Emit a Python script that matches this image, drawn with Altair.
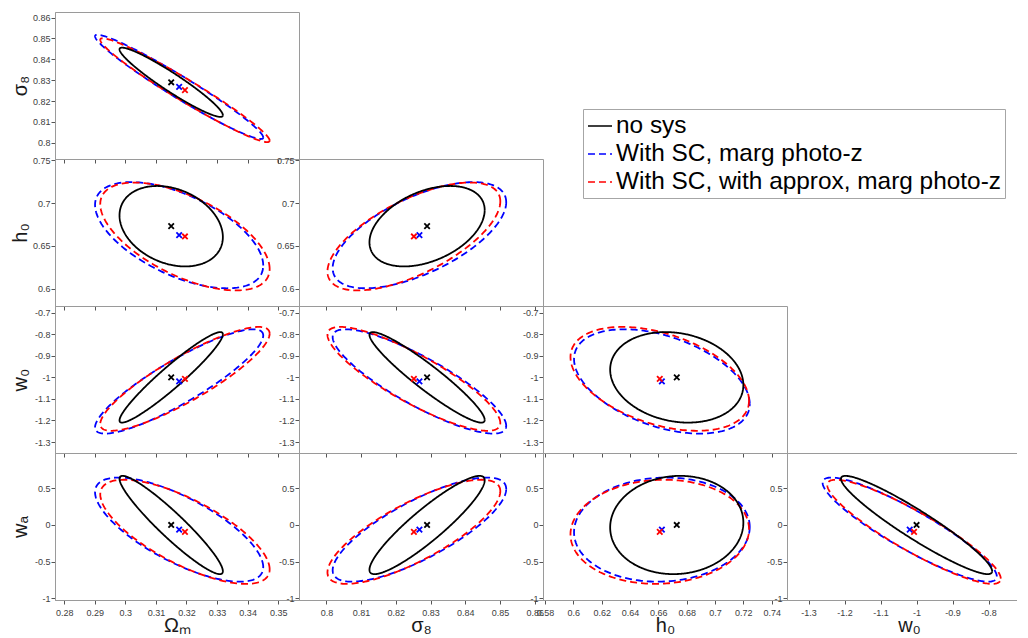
import numpy as np
import pandas as pd
import altair as alt

# ---------------- data ----------------
param_titles = ["Ωₘ", "σ₈", "h₀", "w₀", "wₐ"]
series_names = ["no sys", "With SC, marg photo-z", "With SC, with approx, marg photo-z"]
series_colors = ["#000000", "#0000ff", "#ff0000"]
series_dash = [[1, 0], [7, 4], [7, 4]]

# fiducial / best-fit markers: [Om, s8, h0, w0, wa]
center_nosys = [0.315, 0.829, 0.673, -1.0, 0.0]
center_sc = [0.3176, 0.8268, 0.6625, -1.019, -0.063]
center_approx = [0.3195, 0.8252, 0.661, -1.007, -0.093]

# half extents of the contours for each parameter
half_nosys = [0.0169, 0.0166, 0.047, 0.21, 0.67]
half_sc = [0.0275, 0.025, 0.062, 0.242, 0.71]
half_approx = [0.0277, 0.0249, 0.063, 0.241, 0.71]

# correlation of each panel pair (x param, y param)
pairs = [(0, 1), (0, 2), (1, 2), (0, 3), (1, 3), (2, 3), (0, 4), (1, 4), (2, 4), (3, 4)]
rho_nosys = [-0.95, -0.27, 0.40, 0.95, -0.94, -0.17, -0.94, 0.91, 0.05, -0.94]
rho_sc = [-0.97, -0.57, 0.62, 0.88, -0.85, -0.43, -0.72, 0.78, 0.05, -0.90]
rho_approx = [-0.97, -0.60, 0.65, 0.87, -0.85, -0.42, -0.72, 0.78, 0.05, -0.90]

# axis ranges and ticks
x_domains = {0: [0.277, 0.3568], 1: [0.7921, 0.8624], 2: [0.5786, 0.7508], 3: [-1.36, -0.682]}
y_domains = {1: [0.7922, 0.8627], 2: [0.5798, 0.7515], 3: [-1.351, -0.669], 4: [-1.023, 0.982]}
x_ticks = {
    0: [0.28, 0.29, 0.3, 0.31, 0.32, 0.33, 0.34, 0.35],
    1: [0.8, 0.81, 0.82, 0.83, 0.84, 0.85, 0.86],
    2: [0.58, 0.6, 0.62, 0.64, 0.66, 0.68, 0.7, 0.72, 0.74],
    3: [-1.3, -1.2, -1.1, -1.0, -0.9, -0.8, -0.7],
}
y_ticks = {
    1: [0.8, 0.81, 0.82, 0.83, 0.84, 0.85, 0.86],
    2: [0.6, 0.65, 0.7, 0.75],
    3: [-1.3, -1.2, -1.1, -1.0, -0.9, -0.8, -0.7],
    4: [-1.0, -0.5, 0.0, 0.5],
}

centers = [center_nosys, center_sc, center_approx]
halves = [half_nosys, half_sc, half_approx]
rhos = [rho_nosys, rho_sc, rho_approx]

PW, PH = 244, 147
FONT = "Liberation Sans"

legend = alt.Legend(
    orient="none", legendX=528, legendY=97, title=None,
    symbolType="stroke", symbolSize=576, symbolStrokeWidth=1.6,
    labelFontSize=24.4, labelFont=FONT, labelColor="black",
    strokeColor="#a6a6a6", fillColor="white", padding=4, rowPadding=3,
    labelOffset=3, labelLimit=0,
)


def contour_table(i, j):
    p = pairs.index((i, j))
    t = np.linspace(0, 2 * np.pi, 241)
    frames = []
    for k in [1, 2, 0]:
        cx, cy = centers[k][i], centers[k][j]
        ax, ay = halves[k][i], halves[k][j]
        r = rhos[k][p]
        frames.append(pd.DataFrame({
            "x": cx + ax * np.cos(t),
            "y": cy + ay * (r * np.cos(t) + np.sqrt(1 - r * r) * np.sin(t)),
            "series": series_names[k],
            "k": np.arange(len(t)),
            "grp": k,
        }))
    return pd.concat(frames, ignore_index=True)


def marker_table(i, j):
    return pd.DataFrame({
        "x": [c[i] for c in centers],
        "y": [c[j] for c in centers],
        "series": series_names,
    })


def panel(i, j):
    first_col = i == 0
    last_row = j == 4
    xaxis = alt.Axis(
        values=x_ticks[i], tickCount=50, labels=last_row, format="~g",
        labelExpr="replace(datum.label, '−', '-')",
        labelOverlap=False, labelFlush=False,
        title=param_titles[i] if last_row else None,
        titleX=PW / 2, titleY=25, titleBaseline="middle", titleAlign="center",
        labelPadding=4,
    )
    yaxis = alt.Axis(
        values=y_ticks[j], tickCount=50, format="~g",
        labelExpr="replace(datum.label, '−', '-')",
        labelOverlap=False, labelFlush=False,
        title=param_titles[j] if first_col else None,
        titleX=-35, titleY=PH / 2, titleAngle=270, titleBaseline="middle", titleAlign="center",
        labelPadding=1,
    )
    xs = alt.Scale(domain=x_domains[i], nice=False, zero=False)
    ys = alt.Scale(domain=y_domains[j], nice=False, zero=False)
    lines = alt.Chart(contour_table(i, j)).mark_line(strokeWidth=1.8, clip=True).encode(
        x=alt.X("x:Q", scale=xs, axis=xaxis),
        y=alt.Y("y:Q", scale=ys, axis=yaxis),
        color=alt.Color("series:N", scale=alt.Scale(domain=series_names, range=series_colors), legend=legend),
        strokeDash=alt.StrokeDash("series:N", scale=alt.Scale(domain=series_names, range=series_dash), legend=legend),
        detail="grp:N",
        order="k:Q",
    )
    marks = alt.Chart(marker_table(i, j)).mark_point(
        shape="M-1,-1L1,1M-1,1L1,-1", filled=False, size=30, strokeWidth=1.8, opacity=1
    ).encode(
        x=alt.X("x:Q", scale=xs),
        y=alt.Y("y:Q", scale=ys),
        stroke=alt.Stroke("series:N", scale=alt.Scale(domain=series_names, range=series_colors), legend=None),
    )
    return alt.layer(lines, marks).properties(width=PW, height=PH)


def blank():
    return alt.Chart(marker_table(0, 1)).mark_point(opacity=0, size=1).encode(
        x=alt.value(PW / 2), y=alt.value(PH / 2)
    ).properties(width=PW, height=PH, view=alt.ViewBackground(stroke="transparent"))


cells = []
for j in [1, 2, 3, 4]:
    for i in [0, 1, 2, 3]:
        cells.append(panel(i, j) if i < j else blank())

chart = alt.concat(*cells, columns=4, spacing=0, bounds="flush").properties(
    padding={"left": 1, "top": 3, "right": -16, "bottom": 0}
).configure_view(
    stroke="#9a9a9a", strokeWidth=1
).configure_axis(
    grid=False, domainColor="#9a9a9a", domainWidth=1,
    tickColor="#555555", tickSize=4, tickWidth=1,
    labelFont=FONT, labelFontSize=9, labelColor="#404040",
    labelFlush=False, labelOverlap=False,
    titleFont=FONT, titleFontSize=20, titleFontWeight="normal", titleColor="#1a1a1a",
)

chart.save("out.html", embed_options={"renderer": "svg", "actions": False})
